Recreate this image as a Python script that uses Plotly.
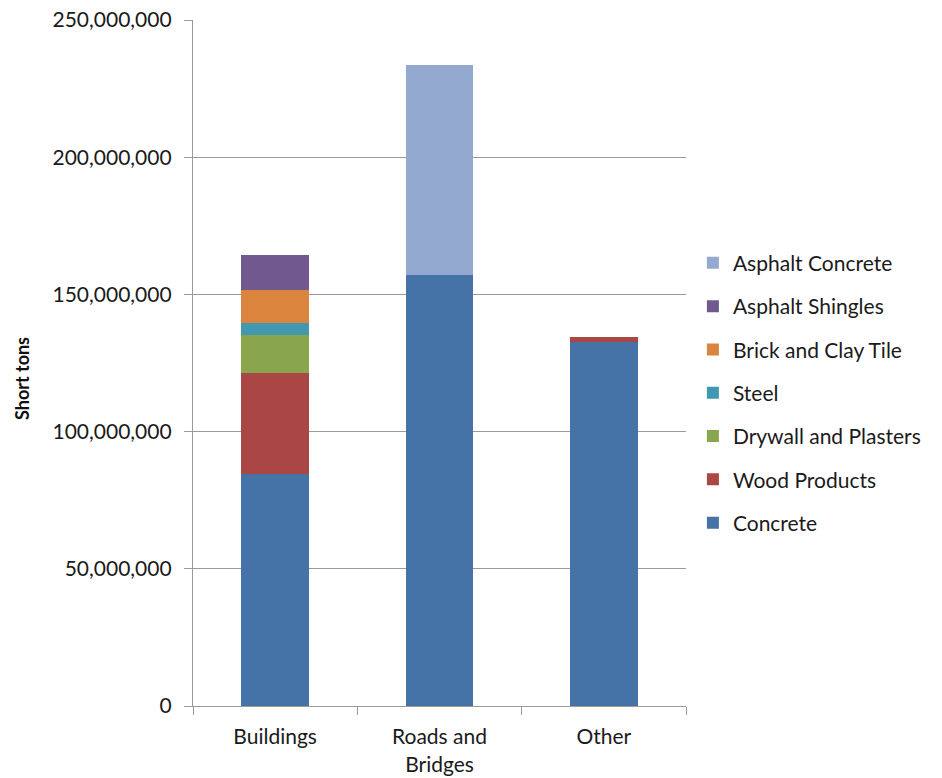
import plotly.graph_objects as go

categories = ["Buildings", "Roads and<br>Bridges", "Other"]

concrete = [84.7e6, 157.1e6, 132.8e6]
wood_products = [36.8e6, 0, 1.7e6]
drywall_plasters = [13.8e6, 0, 0]
steel = [4.4e6, 0, 0]
brick_clay_tile = [11.9e6, 0, 0]
asphalt_shingles = [12.9e6, 0, 0]
asphalt_concrete = [0, 76.6e6, 0]

series = [
    ("Concrete", concrete, "#4572A7"),
    ("Wood Products", wood_products, "#AA4643"),
    ("Drywall and Plasters", drywall_plasters, "#89A54E"),
    ("Steel", steel, "#4198AF"),
    ("Brick and Clay Tile", brick_clay_tile, "#DB843D"),
    ("Asphalt Shingles", asphalt_shingles, "#71588F"),
    ("Asphalt Concrete", asphalt_concrete, "#93A9CF"),
]

tick_vals = [0, 50e6, 100e6, 150e6, 200e6, 250e6]
tick_text = ["0", "50,000,000", "100,000,000", "150,000,000", "200,000,000", "250,000,000"]

fig = go.Figure()
n = len(series)
for i, (name, vals, color) in enumerate(series):
    fig.add_trace(go.Bar(
        name=name, x=categories, y=vals, marker_color=color,
        marker_line_width=0, legendgroup=name, legendrank=1000 - i,
    ))

FONT = "Lato"
TXT = "#1a1a1a"
fig.update_layout(
    barmode="stack",
    bargap=0.59,
    width=942, height=778,
    margin=dict(l=193, r=256, t=20, b=72),
    plot_bgcolor="white", paper_bgcolor="white",
    font=dict(family=FONT, size=21, color=TXT),
    legend=dict(
        traceorder="grouped",
        x=1.014, xanchor="left", y=0.456, yanchor="middle",
        font=dict(family=FONT, size=21, color=TXT),
        tracegroupgap=13, itemwidth=30,
        bgcolor="rgba(0,0,0,0)",
    ),
    yaxis=dict(
        range=[0, 250e6],
        tickvals=tick_vals, ticktext=tick_text,
        showgrid=True, gridcolor="#9a9a9a", gridwidth=1.3,
        showline=True, linecolor="#9a9a9a", linewidth=1.3,
        ticks="outside", ticklen=8, tickcolor="#9a9a9a",
        ticklabelstandoff=8,
        zeroline=False, automargin=False,
        tickfont=dict(family=FONT, size=21, color=TXT),
    ),
    xaxis=dict(
        showline=True, linecolor="#9a9a9a", linewidth=1.3,
        ticks="outside", ticklen=8, tickcolor="#9a9a9a", tickson="boundaries",
        ticklabelstandoff=12, automargin=False,
        tickfont=dict(family=FONT, size=21, color=TXT),
    ),
    annotations=[dict(
        text="<b>Short tons</b>", xref="paper", yref="paper",
        x=-0.347, y=0.478, xanchor="center", yanchor="middle",
        textangle=-90, showarrow=False,
        font=dict(family=FONT, size=18, color="#111111"),
    )],
)

fig.write_html("out.html")
